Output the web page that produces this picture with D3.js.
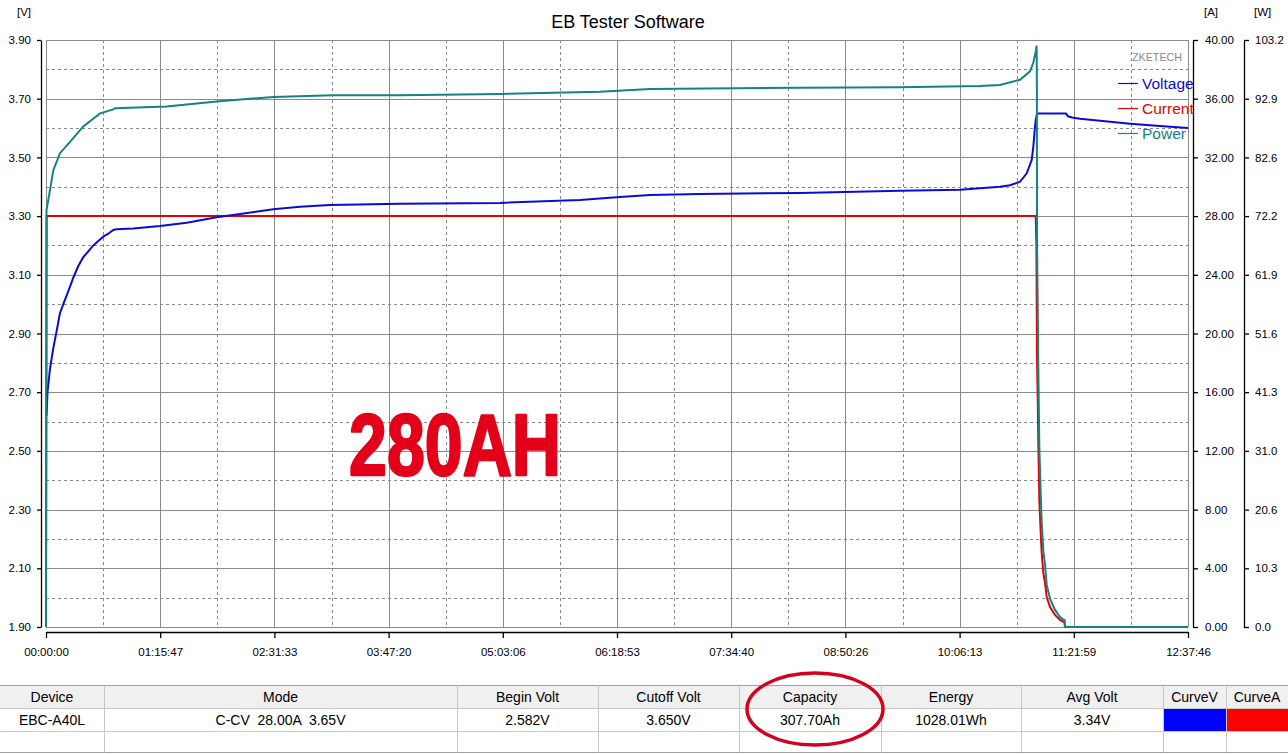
<!DOCTYPE html>
<html>
<head>
<meta charset="utf-8">
<script src="https://cdn.jsdelivr.net/npm/d3@7/dist/d3.min.js"></script>
<style>
  html, body { margin: 0; padding: 0; background: #fff; }
  svg { display: block; font-family: "Liberation Sans", Arial, sans-serif; }
</style>
</head>
<body>
<svg id="chart" width="1288" height="754"></svg>
<script>
// ---------------- DATA ----------------
const totalSeconds = 45466; // 12:37:46
const xTickLabels = ["00:00:00","01:15:47","02:31:33","03:47:20","05:03:06","06:18:53","07:34:40","08:50:26","10:06:13","11:21:59","12:37:46"];
const voltTickLabels = ["1.90","2.10","2.30","2.50","2.70","2.90","3.10","3.30","3.50","3.70","3.90"];
const ampTickLabels = ["0.00","4.00","8.00","12.00","16.00","20.00","24.00","28.00","32.00","36.00","40.00"];
const wattTickLabels = ["0.0","10.3","20.6","31.0","41.3","51.6","61.9","72.2","82.6","92.9","103.2"];

// [seconds, volts]
const voltage = [
  [20,2.62],[60,2.70],[159,2.78],[291,2.85],[426,2.91],[557,2.97],[689,3.00],[824,3.03],
  [956,3.06],[1087,3.09],[1286,3.13],[1485,3.16],[1684,3.18],[1883,3.20],[2082,3.215],
  [2281,3.23],[2480,3.24],[2679,3.253],[2800,3.255],[3476,3.258],[4539,3.266],[5602,3.277],
  [6796,3.296],[7724,3.307],[9050,3.323],[10112,3.332],[11307,3.338],[14094,3.342],
  [18075,3.345],[21260,3.355],[22852,3.365],[24047,3.372],[26037,3.375],[30019,3.379],
  [34000,3.386],[36389,3.39],[37981,3.40],[38380,3.405],[38778,3.417],[39044,3.446],
  [39243,3.491],[39307,3.536],[39375,3.605],[39403,3.627],[39455,3.65],[40609,3.65],
  [40689,3.64],[40848,3.636],[41166,3.632],[41963,3.625],[43157,3.615],[44351,3.607],[45466,3.600]
];
// [seconds, amps]
const current = [
  [0,0],[25,28],[39403,28],[39430,26.0],[39455,18.4],[39483,15.5],[39507,12.5],[39547,8.65],
  [39602,6.4],[39642,5.04],[39706,3.68],[39773,3.0],[39841,2.04],[39972,1.36],[40171,0.82],
  [40370,0.48],[40502,0.36],[40550,0.34],[40569,0],[45466,0]
];
// [seconds, watts]
const power = [
  [0,0],[20,73.3],[159,76.8],[291,80.3],[557,83.3],[956,85.3],[1485,88.0],[2148,90.3],
  [2679,91.0],[2750,91.2],[4803,91.5],[6796,92.4],[9050,93.2],[11426,93.5],[14094,93.5],
  [18075,93.7],[22057,94.1],[24047,94.6],[30019,94.8],[34000,94.9],[37185,95.1],[37981,95.3],
  [38778,96.2],[39176,97.7],[39307,99.2],[39415,101.4],[39440,102.2],[39450,95.0],[39455,67.2],
  [39483,56.6],[39507,45.6],[39547,31.6],[39602,23.4],[39642,18.4],[39706,13.4],[39773,11.0],
  [39841,7.4],[39972,5.0],[40171,3.0],[40370,1.75],[40502,1.3],[40550,1.25],[40569,0],[45466,0]
];

const legendNames = ["Voltage","Current","Power"];
const tableHeaders = ["Device","Mode","Begin Volt","Cutoff Volt","Capacity","Energy","Avg Volt","CurveV","CurveA"];
const tableValues = ["EBC-A40L","C-CV  28.00A  3.65V","2.582V","3.650V","307.70Ah","1028.01Wh","3.34V","",""];
const stampText = "280AH";

// ---------------- LAYOUT ----------------
const svg = d3.select("#chart");
const L = 46, R = 1188, T = 40, B = 627;
const colV = "#0c0cd0", colA = "#e60000", colW = "#168282";
const gridCol = "#8a8a8a";

const x = d3.scaleLinear().domain([0, totalSeconds]).range([L, R]);
const yV = d3.scaleLinear().domain([1.9, 3.9]).range([B, T]);
const yA = d3.scaleLinear().domain([0, 40]).range([B, T]);
const yW = d3.scaleLinear().domain([0, 103.2]).range([B, T]);

const xTicks = xTickLabels.map((_, i) => i * totalSeconds / (xTickLabels.length - 1));
const vTicks = voltTickLabels.map(Number);
const aTicks = ampTickLabels.map(Number);
const wTicks = wattTickLabels.map((_, i) => i * 103.2 / (wattTickLabels.length - 1));

// grid
const grid = svg.append("g");
const xMid = d3.pairs(xTicks).map(p => (p[0] + p[1]) / 2);
const vMid = d3.pairs(vTicks).map(p => (p[0] + p[1]) / 2);
grid.selectAll(".vd").data(xMid).join("line")
  .attr("x1", d => Math.round(x(d)) + 0.5).attr("x2", d => Math.round(x(d)) + 0.5)
  .attr("y1", T).attr("y2", B).attr("stroke", gridCol).attr("stroke-dasharray", "3,3");
grid.selectAll(".hd").data(vMid).join("line")
  .attr("y1", d => Math.round(yV(d)) + 0.5).attr("y2", d => Math.round(yV(d)) + 0.5)
  .attr("x1", L).attr("x2", R).attr("stroke", gridCol).attr("stroke-dasharray", "3,3");
grid.selectAll(".vs").data(xTicks).join("line")
  .attr("x1", d => Math.round(x(d)) + 0.5).attr("x2", d => Math.round(x(d)) + 0.5)
  .attr("y1", T).attr("y2", B).attr("stroke", gridCol);
grid.selectAll(".hs").data(vTicks).join("line")
  .attr("y1", d => Math.round(yV(d)) + 0.5).attr("y2", d => Math.round(yV(d)) + 0.5)
  .attr("x1", L).attr("x2", R).attr("stroke", gridCol);

// axes
function styleAxis(g) {
  g.selectAll("path").attr("stroke", "#000").attr("stroke-width", 1.3);
  g.selectAll("line").attr("stroke", "#000").attr("stroke-width", 1.3);
  g.selectAll("text").attr("fill", "#000").style("font-size", "11.5px").style("font-family", "'Liberation Sans', Arial, sans-serif");
}
svg.append("g").attr("transform", "translate(41,0)")
  .call(d3.axisLeft(yV).tickValues(vTicks).tickFormat((d, i) => voltTickLabels[i]).tickSize(4).tickSizeOuter(0).tickPadding(6))
  .call(styleAxis);
svg.append("g").attr("transform", "translate(0,632)")
  .call(d3.axisBottom(x).tickValues(xTicks).tickFormat((d, i) => xTickLabels[i]).tickSize(6).tickSizeOuter(0).tickPadding(10))
  .call(styleAxis);
svg.append("g").attr("transform", "translate(1193,0)")
  .call(d3.axisRight(yA).tickValues(aTicks).tickFormat((d, i) => ampTickLabels[i]).tickSize(5).tickSizeOuter(0).tickPadding(7))
  .call(styleAxis);
svg.append("g").attr("transform", "translate(1244,0)")
  .call(d3.axisRight(yW).tickValues(wTicks).tickFormat((d, i) => wattTickLabels[i]).tickSize(5).tickSizeOuter(0).tickPadding(6))
  .call(styleAxis);

// unit labels
const unitStyle = s => s.style("font-size", "11.5px").attr("fill", "#000");
svg.append("text").attr("x", 17).attr("y", 16).text("[V]").call(unitStyle);
svg.append("text").attr("x", 1204).attr("y", 16).text("[A]").call(unitStyle);
svg.append("text").attr("x", 1254).attr("y", 16).text("[W]").call(unitStyle);

// title
svg.append("text").attr("x", 628).attr("y", 28).attr("text-anchor", "middle")
  .style("font-size", "18px").attr("fill", "#000").text("EB Tester Software");

// series
const lineV = d3.line().x(d => x(d[0])).y(d => yV(d[1]));
const lineA = d3.line().x(d => x(d[0])).y(d => yA(d[1]));
const lineW = d3.line().x(d => x(d[0])).y(d => yW(d[1]));
svg.append("path").datum(current).attr("d", lineA).attr("fill", "none").attr("stroke", colA).attr("stroke-width", 2);
svg.append("path").datum(voltage).attr("d", lineV).attr("fill", "none").attr("stroke", colV).attr("stroke-width", 2);
svg.append("path").datum(power).attr("d", lineW).attr("fill", "none").attr("stroke", colW).attr("stroke-width", 2);

// watermark + legend
svg.append("text").attr("x", 1132).attr("y", 61).style("font-size", "11px").attr("fill", "#8a8a8a")
  .attr("textLength", 50).attr("lengthAdjust", "spacingAndGlyphs").text("ZKETECH");
const legCols = [colV, colA, colW];
const leg = svg.append("g");
legendNames.forEach((name, i) => {
  const yy = 83 + i * 25;
  leg.append("line").attr("x1", 1118).attr("x2", 1138).attr("y1", yy + 0.5).attr("y2", yy + 0.5)
    .attr("stroke", legCols[i]).attr("stroke-width", 1.2);
  leg.append("text").attr("x", 1142).attr("y", yy + 6).style("font-size", "15.5px")
    .attr("fill", legCols[i]).text(name);
});

// stamp text
svg.append("text").attr("x", 349).attr("y", 475).attr("fill", "#e2001a")
  .attr("stroke", "#e2001a").attr("stroke-width", 2.5).attr("stroke-linejoin", "round")
  .style("font-size", "88px").style("font-weight", "bold")
  .style("font-family", "'Liberation Sans', Arial, sans-serif")
  .attr("textLength", 212).attr("lengthAdjust", "spacingAndGlyphs").text(stampText);

// table
const colEdges = [0, 104, 457, 598, 739, 881, 1021, 1163, 1226, 1288];
const rowEdges = [685.5, 708.5, 731.5, 752.5];
const tbl = svg.append("g");
tbl.append("rect").attr("x", 0).attr("y", rowEdges[0]).attr("width", 1288).attr("height", rowEdges[1] - rowEdges[0]).attr("fill", "#f0f0f0");
tbl.append("rect").attr("x", 1164).attr("y", 709).attr("width", 62).attr("height", 22).attr("fill", "#0000ff");
tbl.append("rect").attr("x", 1227).attr("y", 709).attr("width", 61).attr("height", 22).attr("fill", "#ff0000");
rowEdges.forEach((ry, i) => {
  tbl.append("line").attr("x1", 0).attr("x2", 1288).attr("y1", ry).attr("y2", ry)
    .attr("stroke", i === 0 || i === rowEdges.length - 1 ? "#a0a0a0" : "#c8c8c8");
});
colEdges.slice(1, -1).forEach(cx => {
  tbl.append("line").attr("x1", cx + 0.5).attr("x2", cx + 0.5).attr("y1", rowEdges[0]).attr("y2", rowEdges[3]).attr("stroke", "#c8c8c8");
});
tableHeaders.forEach((h, i) => {
  const cx = (colEdges[i] + colEdges[i + 1]) / 2;
  tbl.append("text").attr("x", cx).attr("y", 702).attr("text-anchor", "middle")
    .style("font-size", "14px").attr("fill", "#000").text(h);
  tbl.append("text").attr("x", cx).attr("y", 725).attr("text-anchor", "middle")
    .style("font-size", "14px").style("white-space", "pre").attr("fill", "#000").text(tableValues[i]);
});

// highlight ellipse around Capacity
svg.append("ellipse").attr("cx", 815).attr("cy", 709).attr("rx", 68).attr("ry", 36)
  .attr("fill", "none").attr("stroke", "#d3001e").attr("stroke-width", 3.5);
</script>
</body>
</html>
